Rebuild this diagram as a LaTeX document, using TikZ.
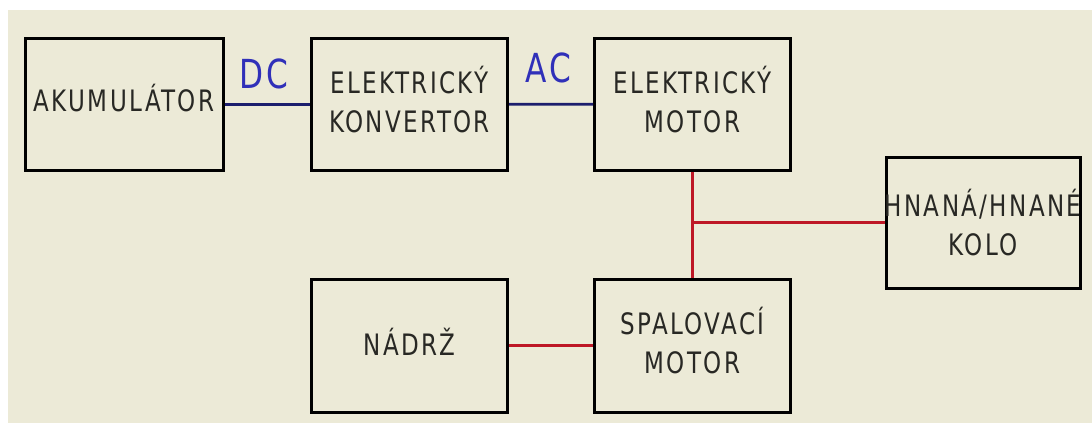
\documentclass[tikz,border=0pt]{standalone}
\usepackage{fontspec}
\usepackage{tikz}
\usetikzlibrary{arrows.meta,calc,positioning}
\newfontfamily\blokfont[FakeStretch=0.78,LetterSpace=8]{DejaVu Sans}
\definecolor{Panel}{RGB}{236,234,215}
\definecolor{TextGray}{RGB}{40,40,36}
\definecolor{LineNavy}{RGB}{28,30,110}
\definecolor{LabelBlue}{RGB}{48,48,185}
\definecolor{LineRed}{RGB}{190,24,38}

\begin{document}
\begin{tikzpicture}[x=1pt,y=-1pt,
  blok/.style={draw=black,line width=3pt,minimum width=196pt,minimum height=132pt,inner sep=0pt},
  napis/.style={align=center,inner sep=0pt,text=TextGray,font=\blokfont\fontsize{29.5}{39}\selectfont},
  proud/.style={text=LabelBlue,inner sep=0pt,font=\blokfont\fontsize{40}{40}\selectfont},
  dcline/.style={draw=LineNavy,line width=2.8pt},
  redline/.style={draw=LineRed,line width=2.8pt}]
\useasboundingbox (0,0) rectangle (1092,423);
\fill[white] (0,0) rectangle (1092,423);
\fill[Panel] (8,10) rectangle (1092,423);
% bloky
\node[blok,minimum width=198pt] (akku) at (124,104.5) {};
\node[blok] (konv) at (409.5,104.5) {};
\node[blok] (emot) at (692.5,104) {};
\node[blok,minimum width=194pt,minimum height=131pt] (kolo) at (983,222.5) {};
\node[blok,minimum height=133pt] (nadrz) at (409.5,345.5) {};
\node[blok,minimum height=133pt] (spal) at (692.5,345.5) {};
% popisky bloku
\node[napis,yshift=6pt] (akkut) at (akku) {AKUMULÁTOR};
\node[napis,yshift=5pt] (konvt) at (konv) {ELEKTRICKÝ\\KONVERTOR};
\node[napis,yshift=4.5pt] (emott) at (emot) {ELEKTRICKÝ\\MOTOR};
\node[napis] (kolot) at (kolo) {HNANÁ/HNANÉ\\KOLO};
\node[napis,yshift=4pt] (nadrzt) at (nadrz) {NÁDRŽ};
\node[napis,yshift=5pt] (spalt) at (spal) {SPALOVACÍ\\MOTOR};
% elektricka cast
\draw[dcline] (akku) -- (konv);
\draw[dcline] (konv) -- (emot);
\node[proud] (dc) at (264,73.5) {DC};
\node[proud] (ac) at (548,68) {AC};
% mechanicka cast
\coordinate (uzel) at (emot.south |- kolo.west);
\draw[redline] (emot) -- (spal);
\draw[redline] (uzel) -- (kolo);
\draw[redline] (nadrz) -- (spal);
\end{tikzpicture}
\end{document}
